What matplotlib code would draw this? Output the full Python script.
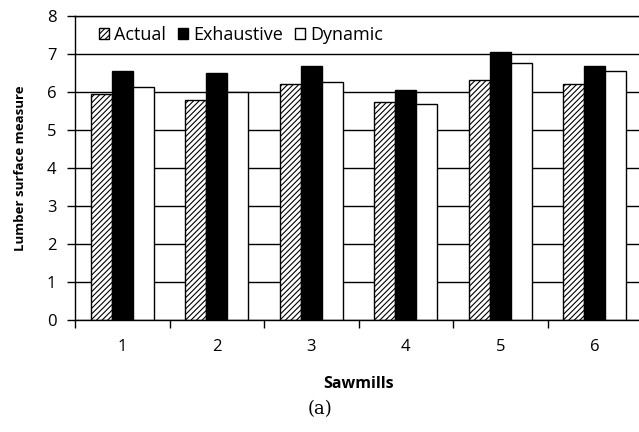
import matplotlib
matplotlib.use("Agg")
import matplotlib.pyplot as plt
import numpy as np

categories = ["1", "2", "3", "4", "5", "6"]
actual = [5.95, 5.78, 6.22, 5.74, 6.31, 6.22]
exhaustive = [6.55, 6.50, 6.67, 6.05, 7.04, 6.67]
dynamic = [6.13, 6.00, 6.27, 5.69, 6.77, 6.54]
series_names = ["Actual", "Exhaustive", "Dynamic"]

plt.rcParams['font.family'] = ['Open Sans', 'DejaVu Sans']
plt.rcParams['hatch.linewidth'] = 0.8

fig = plt.figure(figsize=(6.39, 4.32), dpi=100)
ax = fig.add_axes([75/639, (432-319.5)/432, 567/639, (319.5-16)/432])

x = np.arange(len(categories))
w = 0.222
ax.set_axisbelow(True)
ax.yaxis.grid(True, color='black', linewidth=1.0)
ax.bar(x - w, actual, w, facecolor='white', edgecolor='black', hatch='//////', linewidth=1.0, label=series_names[0], zorder=2)
ax.bar(x, exhaustive, w, facecolor='black', edgecolor='black', linewidth=1.0, label=series_names[1], zorder=2)
ax.bar(x + w, dynamic, w, facecolor='white', edgecolor='black', linewidth=1.0, label=series_names[2], zorder=2)

ax.set_xlim(-0.5, len(categories) - 0.5)
ax.set_ylim(0, 8)
ax.set_yticks(range(0, 9))
ax.set_xticks(x)
ax.set_xticklabels(categories)
ax.set_xticks(np.arange(-0.5, len(categories)), minor=True)
ax.tick_params(axis='x', which='major', length=0, pad=14, labelsize=12)
ax.tick_params(axis='x', which='minor', length=6, width=1.0, direction='out')
ax.tick_params(axis='y', length=5.5, width=1.0, direction='out', labelsize=12, pad=8)

ax.spines['right'].set_visible(False)
for s in ['top', 'left', 'bottom']:
    ax.spines[s].set_linewidth(1.0)

ax.set_ylabel("Lumber surface measure", fontsize=9.5, fontweight='bold', labelpad=14)
ax.set_xlabel("Sawmills", fontsize=11.5, fontweight='bold', labelpad=15)

leg = ax.legend(loc='center left', bbox_to_anchor=(0.042, 0.938), ncol=3, frameon=False,
                fontsize=13, handlelength=0.55, handleheight=0.55, handletextpad=0.3,
                columnspacing=0.65, borderaxespad=0.0, borderpad=0.0)

fig.text(320/639, 1 - 409/432, "(a)", ha='center', va='center', fontsize=13, family='DejaVu Serif')

fig.savefig("out.png", dpi=100)
